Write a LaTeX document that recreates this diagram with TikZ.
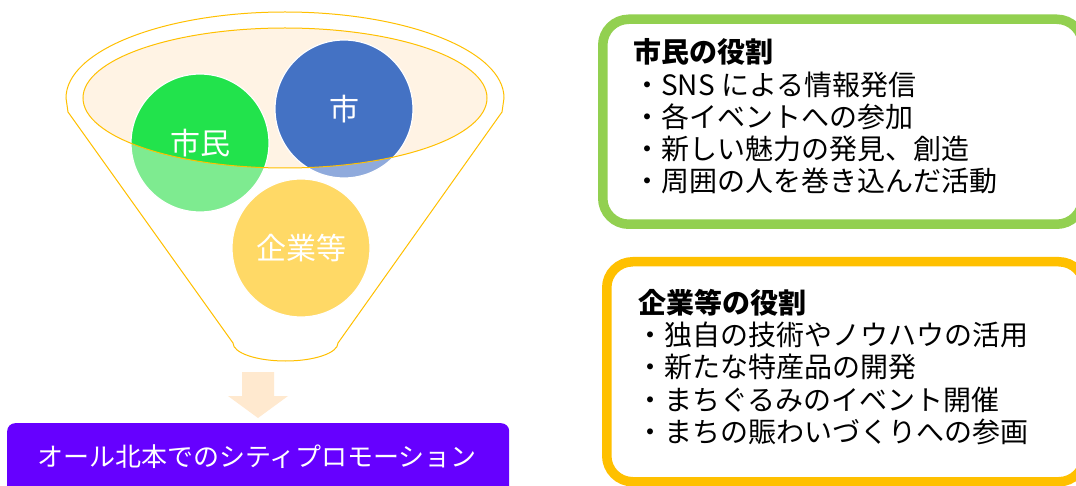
\documentclass[tikz,border=0pt]{standalone}
\usepackage{fontspec}
\setmainfont{Noto Sans CJK JP}
\definecolor{funnelline}{HTML}{FFC000}
\definecolor{funnelfill}{HTML}{FFF3E4}
\definecolor{cgreen}{HTML}{22E34C}
\definecolor{cgreenl}{HTML}{7EEB90}
\definecolor{cblue}{HTML}{4472C4}
\definecolor{cbluel}{HTML}{8FAADC}
\definecolor{cyellow}{HTML}{FFD966}
\definecolor{arrowfill}{HTML}{FFE9CF}
\definecolor{purplebox}{HTML}{6600FF}
\definecolor{boxgreen}{HTML}{92D050}
\definecolor{boxorange}{HTML}{FFC000}
\begin{document}
\begin{tikzpicture}[x=1pt,y=-1pt,
  circlab/.style={circle,minimum size=138pt,inner sep=0pt,draw=white,line width=1.2pt,text=white,font=\fontsize{30}{34}\selectfont},
  rolebox/.style={rounded corners=26pt,line width=9.5pt,fill=white,anchor=north west,inner sep=0pt},
  roletext/.style={anchor=base west,inner sep=0pt,font=\fontsize{28}{32}\selectfont},
  rolehead/.style={roletext,font=\fontsize{28}{32}\selectfont\bfseries}]
\useasboundingbox (0,0) rectangle (1076,486);
\fill[white] (0,0) rectangle (1076,486);
% funnel outline
\draw[funnelline,line width=1pt,fill=white] (68,112) -- (66,98)
  arc[start angle=180,end angle=0,x radius=219pt,y radius=86pt]
  -- (502,112) -- (338,343)
  arc[start angle=0,end angle=-180,x radius=52.5pt,y radius=18pt]
  -- cycle;
% inner ellipse fill
\fill[funnelfill] (285,98) ellipse[x radius=202pt,y radius=70pt];
% circles, light parts
\fill[cgreenl] (200,143) circle[radius=69pt];
\fill[cbluel] (344,109) circle[radius=69pt];
\fill[cyellow] (301,248) circle[radius=69pt];
\begin{scope}
  \clip (285,98) ellipse[x radius=202pt,y radius=70pt];
  \fill[cgreen] (200,143) circle[radius=69pt];
  \fill[cblue] (344,109) circle[radius=69pt];
\end{scope}
\node[circlab] (shimin) at (200,143) {市民};
\node[circlab] (shi) at (344,109) {市};
\node[circlab] (kigyo) at (301,248) {企業等};
\draw[funnelline,line width=1pt] (285,98) ellipse[x radius=202pt,y radius=70pt];
% arrow
\fill[arrowfill] (242,372) -- (274,372) -- (274,396) -- (288,396) -- (258,418) -- (228,396) -- (242,396) -- cycle;
% bottom box
\node[fill=purplebox,rounded corners=8pt,minimum width=502pt,minimum height=80pt,anchor=north west,inner sep=0pt] (promo) at (7,423) {};
\node[text=white,font=\fontsize{26}{30}\selectfont] (promotext) at (257,457) {オール北本でのシティプロモーション};
% role boxes
\node[rolebox,draw=boxgreen,minimum width=480pt,minimum height=205pt] (gbox) at (598,14.5) {};
\node[rolebox,draw=boxorange,minimum width=478pt,minimum height=220pt] (obox) at (602,257) {};
\node[rolehead] (g1) at (633,63) {市民の役割};
\node[roletext] (g2) at (633,95.5) {・SNS による情報発信};
\node[roletext] (g3) at (633,127.5) {・各イベントへの参加};
\node[roletext] (g4) at (633,160) {・新しい魅力の発見、創造};
\node[roletext] (g5) at (633,192) {・周囲の人を巻き込んだ活動};
\node[rolehead] (o1) at (638,313) {企業等の役割};
\node[roletext] (o2) at (636,345) {・独自の技術やノウハウの活用};
\node[roletext] (o3) at (636,377.5) {・新たな特産品の開発};
\node[roletext] (o4) at (636,410) {・まちぐるみのイベント開催};
\node[roletext] (o5) at (636,442) {・まちの賑わいづくりへの参画};
\end{tikzpicture}
\end{document}
